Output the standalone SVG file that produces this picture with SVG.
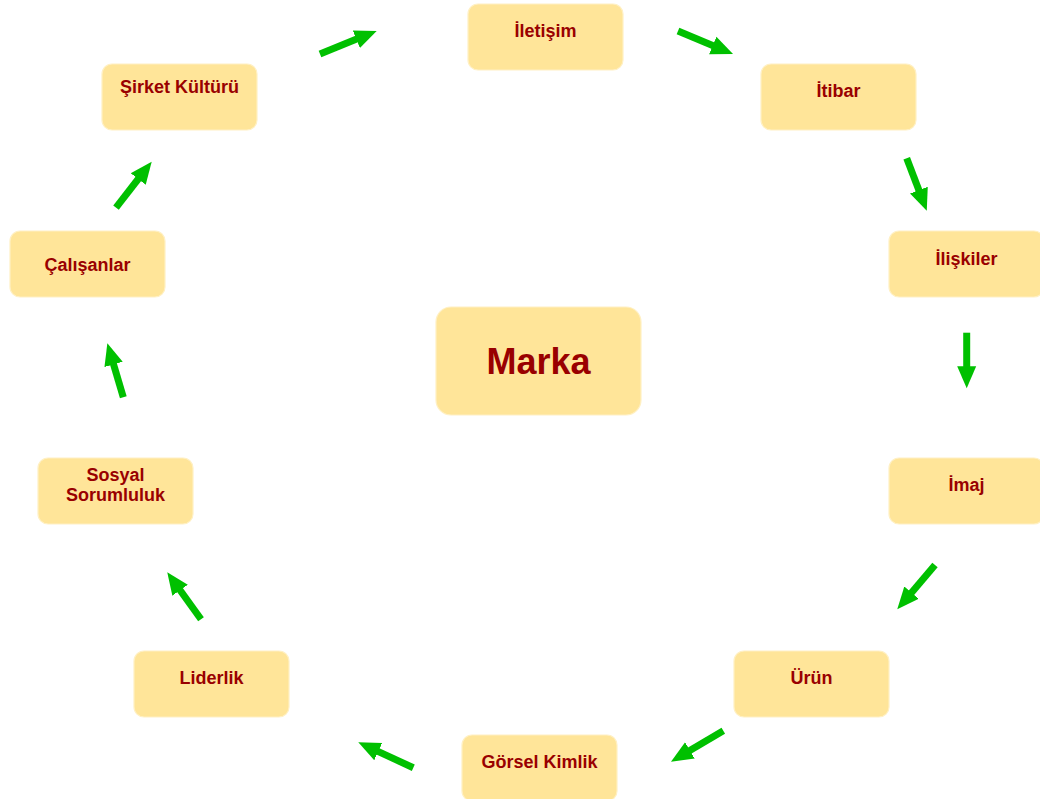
<svg xmlns="http://www.w3.org/2000/svg" width="1040" height="799" viewBox="0 0 1040 799">
<defs>
<style>
.box{fill:#FFE599;stroke:#FFF0C4;stroke-width:1.2}
.lbl{font-family:"Liberation Sans",Arial,sans-serif;font-weight:bold;font-size:18px;fill:#990000;text-anchor:middle}
.big{font-size:36px}
.arr{stroke:#00C000;stroke-width:7;fill:none;marker-end:url(#ah)}
</style>
<marker id="ah" markerUnits="userSpaceOnUse" markerWidth="24" markerHeight="22" viewBox="0 -11 24 22" refX="7" refY="0" orient="auto">
<path d="M0,-9.5 L22,0 L0,9.5 Z" fill="#00C000"/>
</marker>
</defs>
<rect width="1040" height="799" fill="#FFFFFF"/>
<g id="connectors">
<line class="arr" x1="320" y1="54" x2="362.8" y2="36.6"/>
<line class="arr" x1="678" y1="31" x2="719.2" y2="48.2"/>
<line class="arr" x1="906.7" y1="158.3" x2="921.4" y2="196.7"/>
<line class="arr" x1="966.7" y1="332.7" x2="966.7" y2="373.3"/>
<line class="arr" x1="935" y1="565" x2="907.0" y2="597.9"/>
<line class="arr" x1="723.3" y1="730.7" x2="683.9" y2="754.0"/>
<line class="arr" x1="413.3" y1="767.7" x2="371.9" y2="748.6"/>
<line class="arr" x1="201" y1="619.3" x2="176.0" y2="584.5"/>
<line class="arr" x1="123.3" y1="397.3" x2="111.6" y2="357.7"/>
<line class="arr" x1="116" y1="207.7" x2="142.5" y2="173.5"/>
</g>
<g id="marka"><rect class="box" x="436" y="307" width="205" height="108" rx="15"/><text class="lbl big" x="538.5" y="374">Marka</text></g>
<g id="iletisim"><rect class="box" x="468" y="4" width="155" height="66" rx="10"/><text class="lbl" x="545.5" y="37">İletişim</text></g>
<g id="itibar"><rect class="box" x="761" y="64" width="155" height="66" rx="10"/><text class="lbl" x="838.5" y="97">İtibar</text></g>
<g id="iliskiler"><rect class="box" x="889" y="231" width="155" height="66" rx="10"/><text class="lbl" x="966.5" y="265">İlişkiler</text></g>
<g id="imaj"><rect class="box" x="889" y="458" width="155" height="66" rx="10"/><text class="lbl" x="966.5" y="491">İmaj</text></g>
<g id="urun"><rect class="box" x="734" y="651" width="155" height="66" rx="10"/><text class="lbl" x="811.5" y="684">Ürün</text></g>
<g id="gorsel-kimlik"><rect class="box" x="462" y="735" width="155" height="66" rx="10"/><text class="lbl" x="539.5" y="768">Görsel Kimlik</text></g>
<g id="liderlik"><rect class="box" x="134" y="651" width="155" height="66" rx="10"/><text class="lbl" x="211.5" y="684">Liderlik</text></g>
<g id="sosyal-sorumluluk"><rect class="box" x="38" y="458" width="155" height="66" rx="10"/><text class="lbl" x="115.5" y="481">Sosyal</text><text class="lbl" x="115.5" y="501">Sorumluluk</text></g>
<g id="calisanlar"><rect class="box" x="10" y="231" width="155" height="66" rx="10"/><text class="lbl" x="87.5" y="271">Çalışanlar</text></g>
<g id="sirket-kulturu"><rect class="box" x="102" y="64" width="155" height="66" rx="10"/><text class="lbl" x="179.5" y="93">Şirket Kültürü</text></g>
</svg>
